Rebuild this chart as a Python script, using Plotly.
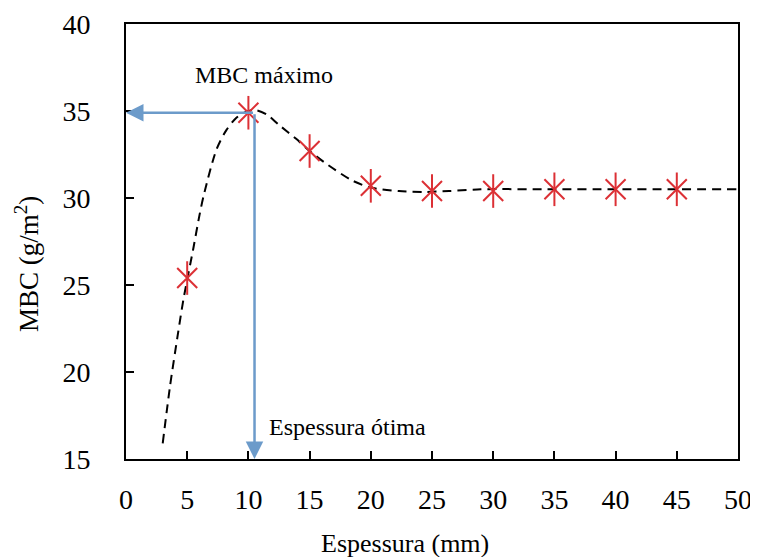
import plotly.graph_objects as go

# Measured points
espessura = [5, 10, 15, 20, 25, 30, 35, 40, 45]
mbc = [25.4, 34.9, 32.7, 30.7, 30.4, 30.4, 30.5, 30.5, 30.5]

# Dashed trend curve
fit_x = [3.0, 3.6, 4.2, 4.7, 5.5, 6.0, 6.4, 7.4, 8.2, 9.0, 9.8, 10.6, 11.5, 12.5,
         13.9, 15.0, 16.5, 18.5, 20.0, 22.3, 24.5, 26.4, 29.0, 35, 40, 45, 50]
fit_y = [15.9, 19.2, 22.0, 24.2, 27.1, 29.0, 30.3, 32.8, 33.9, 34.6, 34.95, 35.05, 34.8, 34.2,
         33.4, 32.7, 31.9, 31.0, 30.6, 30.4, 30.35, 30.4, 30.5, 30.5, 30.5, 30.5, 30.5]

# Optimum marker
x_opt = 10.5
y_opt = 34.9

x_ticks = [0, 5, 10, 15, 20, 25, 30, 35, 40, 45, 50]
y_ticks = [15, 20, 25, 30, 35, 40]

FONT = "'Liberation Serif', 'Times New Roman', 'DejaVu Serif', serif"
ARROW = "#6c9bca"
RED = "#dc3035"

fig = go.Figure()
fig.add_trace(go.Scatter(x=fit_x, y=fit_y, mode="lines",
                         line=dict(color="black", width=2, dash="9px,6px", shape="spline", smoothing=0.8),
                         showlegend=False, hoverinfo="skip"))
# six-armed asterisk marker: an X plus a vertical bar
fig.add_trace(go.Scatter(x=espessura, y=mbc, mode="markers",
                         marker=dict(symbol="x-thin-open", size=20, color=RED, line=dict(color=RED, width=2)),
                         showlegend=False, cliponaxis=False))
fig.add_trace(go.Scatter(x=espessura, y=mbc, mode="markers",
                         marker=dict(symbol="line-ns-open", size=24, color=RED, line=dict(color=RED, width=2)),
                         showlegend=False, cliponaxis=False, hoverinfo="skip"))

# arrows
fig.add_annotation(x=0, y=y_opt, ax=x_opt, ay=y_opt, xref="x", yref="y", axref="x", ayref="y",
                   text="", showarrow=True, arrowhead=2, arrowsize=1.4, arrowwidth=2.5, arrowcolor=ARROW)
fig.add_annotation(x=x_opt, y=15, ax=x_opt, ay=y_opt, xref="x", yref="y", axref="x", ayref="y",
                   text="", showarrow=True, arrowhead=2, arrowsize=1.4, arrowwidth=2.5, arrowcolor=ARROW)

fig.add_annotation(x=11.27, y=37.06, xref="x", yref="y", text="MBC máximo", showarrow=False,
                   xanchor="center", yanchor="middle",
                   font=dict(family=FONT, size=24, color="black"))
fig.add_annotation(x=18.1, y=16.85, xref="x", yref="y", text="Espessura ótima", showarrow=False,
                   xanchor="center", yanchor="middle",
                   font=dict(family=FONT, size=24, color="black"))

# axis titles
fig.add_annotation(x=-0.162, y=0.448, xref="paper", yref="paper", text="MBC (g/m<sup>2</sup>)",
                   textangle=-90, showarrow=False, xanchor="center", yanchor="middle",
                   font=dict(family=FONT, size=27, color="black"))
fig.add_annotation(x=0.456, y=-0.195, xref="paper", yref="paper", text="Espessura (mm)",
                   showarrow=False, xanchor="center", yanchor="middle",
                   font=dict(family=FONT, size=26, color="black"))

axis_common = dict(showgrid=False, zeroline=False, showline=True, linecolor="black", linewidth=2,
                   mirror=True, ticks="inside", ticklen=8, tickwidth=2, tickcolor="black",
                   tickfont=dict(family=FONT, size=28, color="black"))
fig.update_xaxes(range=[0, 50], tickvals=x_ticks, ticktext=[str(v) for v in x_ticks],
                 ticklabelstandoff=14, **axis_common)
fig.update_yaxes(range=[15, 40], tickvals=y_ticks, ticktext=[str(v) for v in y_ticks],
                 ticklabelstandoff=28, **axis_common)

fig.update_layout(width=758, height=557, margin=dict(l=118, r=28, t=16, b=106, autoexpand=False),
                  plot_bgcolor="white", paper_bgcolor="white", font=dict(family=FONT))

fig.write_html("out.html")
